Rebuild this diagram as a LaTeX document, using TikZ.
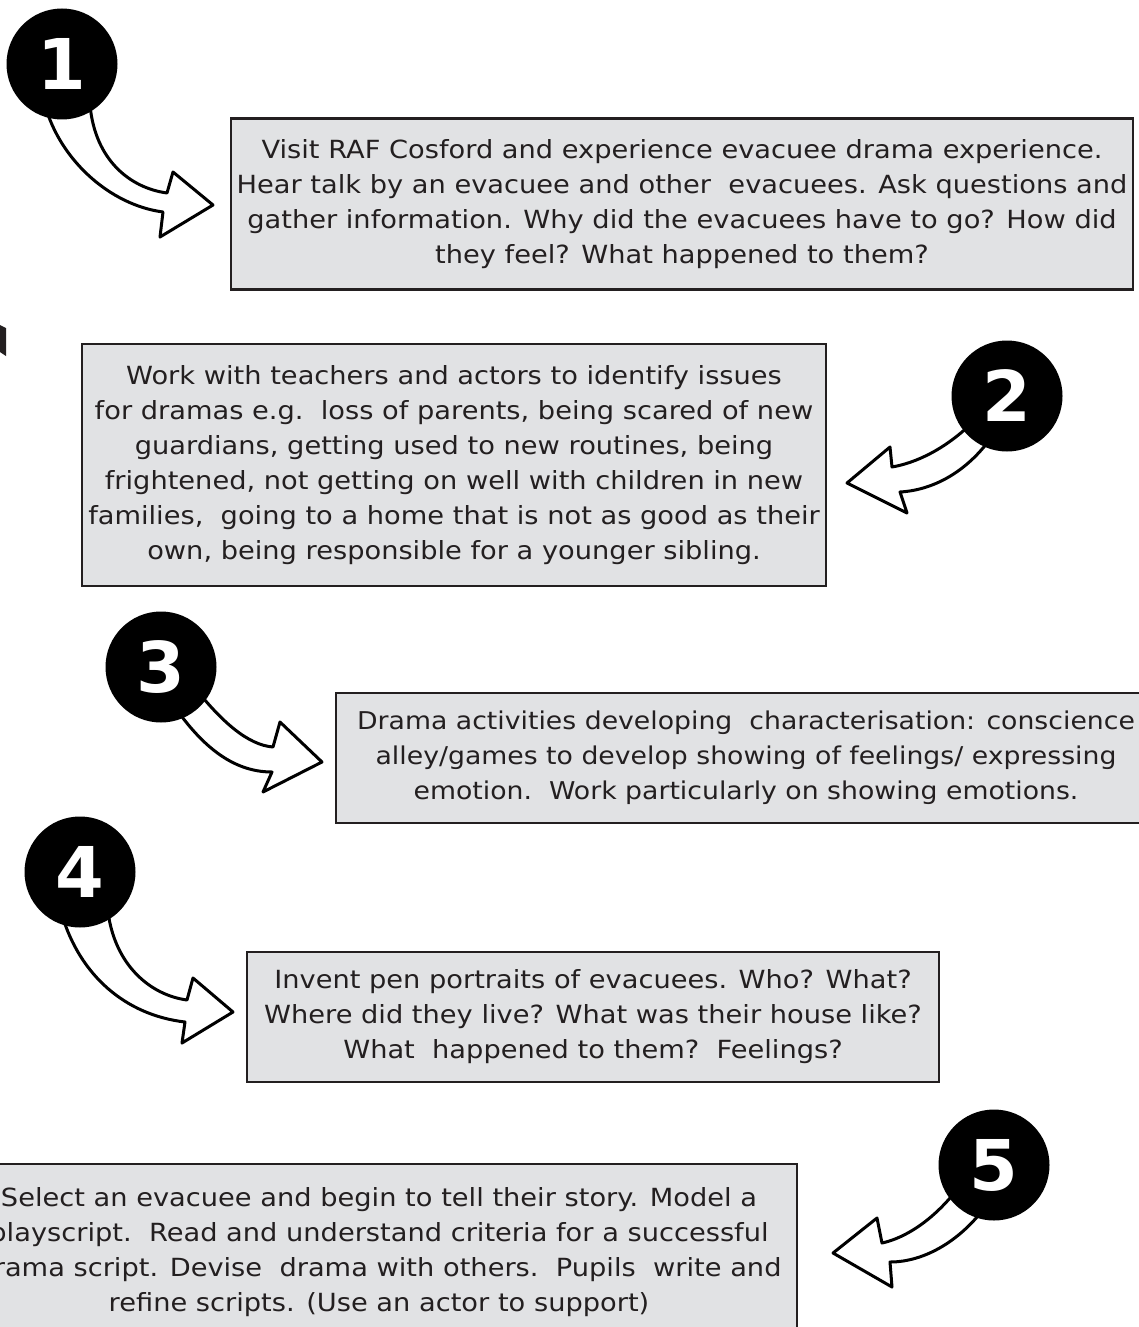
\documentclass[tikz,border=0pt]{standalone}
\usepackage{fontspec}
\setmainfont{DejaVu Sans}
\newfontfamily\boxfont{DejaVu Sans}[FakeStretch=1.09]
\definecolor{boxfill}{HTML}{E1E2E4}
\definecolor{ink}{HTML}{231F20}
\tikzset{
  txtbox/.style={draw=ink, line width=2.5pt, fill=boxfill, align=center, text=ink,
    font=\boxfont\fontsize{25}{35}\selectfont, inner sep=0pt},
  numdisc/.style={circle, fill=black, minimum size=111pt, inner sep=0pt, text=white,
    font=\fontsize{70}{70}\selectfont\bfseries},
  blockarrow/.style={draw=black, fill=white, line width=3pt, line join=round}
}
\begin{document}
\begin{tikzpicture}[x=1pt,y=-1pt]
\path[use as bounding box] (0,0) rectangle (1139,1327);
\clip (0,0) rectangle (1139,1327);

% left edge mark
\fill[ink] (0,325) -- (6,328) -- (6,356) -- (0,352) -- cycle;

% boxes
\node[txtbox, minimum width=902pt, minimum height=171pt] (b1) at (682,204)
 {Visit RAF Cosford and experience evacuee drama experience.\\
  Hear talk by an evacuee and other\ \ evacuees. Ask questions and\\
  gather information. Why did the evacuees have to go? How did\\
  they feel? What happened to them?};

\node[txtbox, minimum width=744pt, minimum height=242pt] (b2) at (454,465)
 {Work with teachers and actors to identify issues\\
  for dramas e.g.\ \ loss of parents, being scared of new\\
  guardians, getting used to new routines, being\\
  frightened, not getting on well with children in new\\
  families,\ \ going to a home that is not as good as their\\
  own, being responsible for a younger sibling.};

\node[txtbox, font=\boxfont\fontsize{24.5}{35}\selectfont,
      minimum width=820pt, minimum height=130pt] (b3) at (746,758)
 {Drama activities developing\ \ characterisation: conscience\\
  alley/games to develop showing of feelings/ expressing\\
  emotion.\ \ Work particularly on showing emotions.};

\node[txtbox, minimum width=692pt, minimum height=130pt] (b4) at (593,1017)
 {Invent pen portraits of evacuees. Who? What?\\
  Where did they live? What was their house like?\\
  What\ \ happened to them?\ \ Feelings?};

\node[txtbox, minimum width=836pt, minimum height=176pt] (b5) at (379,1252)
 {Select an evacuee and begin to tell their story. Model a\\
  playscript.\ \ Read and understand criteria for a successful\\
  drama script. Devise\ \ drama with others.\ \ Pupils\ \ write and\\
  refine scripts. (Use an actor to support)};

% arrows (drawn under the discs)
% arrow 1
\draw[blockarrow] (90,105) .. controls (95,160) and (130,188) .. (167,193)
  -- (173,172) -- (213,205) -- (160,237) -- (163,212)
  .. controls (110,205) and (60,160) .. (45,105) -- cycle;
% arrow 2
\draw[blockarrow] (975,420) .. controls (945,450) and (915,463) .. (892,467)
  -- (890,447) -- (847,483) -- (907,513) -- (900,492)
  .. controls (935,490) and (970,470) .. (995,432) -- cycle;
% arrow 3
\draw[blockarrow] (195,688) .. controls (222,722) and (248,745) .. (273,747)
  -- (280,722) -- (322,762) -- (263,792) -- (272,772)
  .. controls (232,772) and (200,745) .. (170,700) -- cycle;
% arrow 4
\draw[blockarrow] (108,912) .. controls (115,965) and (150,995) .. (187,1000)
  -- (193,978) -- (233,1012) -- (182,1043) -- (185,1022)
  .. controls (125,1015) and (80,975) .. (62,915) -- cycle;
% arrow 5
\draw[blockarrow] (962,1183) .. controls (935,1220) and (905,1238) .. (882,1243)
  -- (877,1218) -- (833,1253) -- (892,1287) -- (890,1262)
  .. controls (925,1262) and (962,1240) .. (988,1203) -- cycle;

% numbered discs
\node[numdisc] (c1) at (62,64) {1};
\node[numdisc] (c2) at (1007,396) {2};
\node[numdisc] (c3) at (161,667) {3};
\node[numdisc] (c4) at (80,872) {4};
\node[numdisc] (c5) at (994,1165) {5};
\end{tikzpicture}
\end{document}
